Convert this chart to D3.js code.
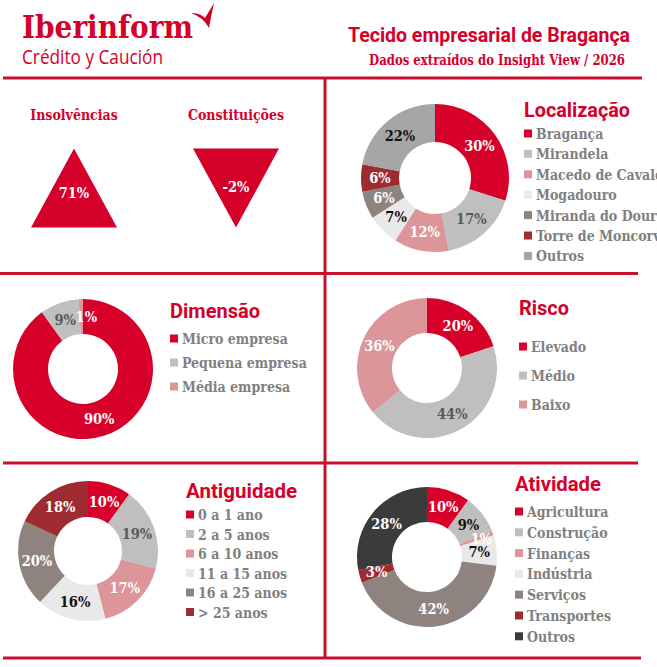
<!DOCTYPE html>
<html>
<head>
<meta charset="utf-8">
<script src="https://cdn.jsdelivr.net/npm/d3@7"></script>
<style>
  html, body { margin: 0; padding: 0; background: #fff; }
  svg { display: block; }
  .serif { font-family: "DejaVu Serif Condensed", "Liberation Serif", serif; font-weight: bold; }
  .sans { font-family: Roboto, "Noto Sans", sans-serif; font-weight: bold; }
</style>
</head>
<body>
<div id="board"></div>
<script>
// ===== データ =====
const kpiLabels = ["Insolvências", "Constituições"];
const kpiValues = [71, -2];

const locLabels = ["Bragança", "Mirandela", "Macedo de Cavaleiros", "Mogadouro", "Miranda do Douro", "Torre de Moncorvo", "Outros"];
const locValues = [30, 17, 12, 7, 6, 6, 22];

const dimLabels = ["Micro empresa", "Pequena empresa", "Média empresa"];
const dimValues = [90, 9, 1];

const riscoLabels = ["Elevado", "Médio", "Baixo"];
const riscoValues = [20, 44, 36];

const antLabels = ["0 a 1 ano", "2 a 5 anos", "6 a 10 anos", "11 a 15 anos", "16 a 25 anos", "> 25 anos"];
const antValues = [10, 19, 17, 16, 20, 18];

const atvLabels = ["Agricultura", "Construção", "Finanças", "Indústria", "Serviços", "Transportes", "Outros"];
const atvValues = [10, 9, 1, 7, 42, 3, 28];

// ===== 設定 =====
const W = 657, H = 667;
const RED = "#d4002a";
const LINE = "#c8102e";
const GREY_TXT = "#808080";
const C = {
    red: "#d7002b", grey: "#bfbfbf", pink: "#dc9598", light: "#e9e9e9",
    taupe: "#8f8380", dark: "#9e2b30", mid: "#a6a6a6", black: "#3b3b3b"
};

const svg = d3.select("#board").append("svg")
    .attr("width", W).attr("height", H);

// ---- ヘッダー ----
svg.append("text")
    .attr("x", 22).attr("y", 38)
    .style("font-family", "'DejaVu Serif Condensed', 'DejaVu Serif', serif")
    .style("font-weight", "bold")
    .attr("font-size", 31).attr("fill", RED)
    .attr("textLength", 171).attr("lengthAdjust", "spacingAndGlyphs")
    .text("Iberinform");
svg.append("path")
    .attr("d", "M191,13 Q200,13 205,18 L214,3 Q211,16 209,28 Q203,17 191,13 Z")
    .attr("fill", RED);
svg.append("text")
    .attr("x", 22).attr("y", 64)
    .style("font-family", "'Open Sans', sans-serif")
    .attr("font-size", 20).attr("fill", RED)
    .attr("textLength", 141).attr("lengthAdjust", "spacingAndGlyphs")
    .text("Crédito y Caución");

svg.append("text").attr("class", "sans")
    .attr("x", 630).attr("y", 42).attr("text-anchor", "end")
    .attr("font-size", 21).attr("fill", RED)
    .attr("textLength", 282).attr("lengthAdjust", "spacingAndGlyphs")
    .text("Tecido empresarial de Bragança");
svg.append("text").attr("class", "serif")
    .attr("x", 625).attr("y", 65).attr("text-anchor", "end")
    .attr("font-size", 15).attr("fill", RED)
    .attr("textLength", 256).attr("lengthAdjust", "spacingAndGlyphs")
    .text("Dados extraídos do Insight View / 2026");

// ---- 罫線 ----
const rules = svg.append("g").attr("stroke", LINE).attr("stroke-width", 3);
rules.append("line").attr("x1", 3).attr("x2", 642).attr("y1", 78).attr("y2", 78);
rules.append("line").attr("x1", 325).attr("x2", 325).attr("y1", 78).attr("y2", 658);
rules.append("line").attr("x1", 0).attr("x2", 638).attr("y1", 273.5).attr("y2", 273.5);
rules.append("line").attr("x1", 3).attr("x2", 638).attr("y1", 463).attr("y2", 463);
rules.append("line").attr("x1", 3).attr("x2", 641).attr("y1", 658).attr("y2", 658);

// ---- KPI 三角形 ----
const kpiX = d3.scalePoint().domain(kpiLabels).range([74, 236]);
const TRI_HALF = 43, TRI_H = 79, TRI_CY = 188;
kpiLabels.forEach((lab, i) => {
    const v = kpiValues[i];
    const cx = kpiX(lab);
    const up = v >= 0;
    const top = TRI_CY - TRI_H / 2, bot = TRI_CY + TRI_H / 2;
    const pts = up
        ? [[cx, top], [cx + TRI_HALF, bot], [cx - TRI_HALF, bot]]
        : [[cx - TRI_HALF, top], [cx + TRI_HALF, top], [cx, bot]];
    svg.append("path")
        .attr("d", d3.line()(pts) + "Z")
        .attr("fill", RED);
    svg.append("text").attr("class", "serif")
        .attr("x", cx).attr("y", 120).attr("text-anchor", "middle")
        .attr("font-size", 14).attr("fill", RED)
        .text(lab);
    svg.append("text").attr("class", "serif")
        .attr("x", cx).attr("y", up ? 198 : 192).attr("text-anchor", "middle")
        .attr("font-size", 14.5).attr("fill", "#fff")
        .text(v + "%");
});

// ---- ドーナツ ----
function donut(opt) {
    const { labels, values, colors, textColors, cx, cy, r0, r1 } = opt;
    const pie = d3.pie().sort(null).value(d => d);
    const arc = d3.arc().innerRadius(r0).outerRadius(r1);
    const arcs = pie(values);
    const g = svg.append("g").attr("transform", `translate(${cx},${cy})`);

    g.selectAll("path.slice")
        .data(arcs)
        .join("path")
        .attr("class", "slice")
        .attr("d", arc)
        .attr("fill", (d, i) => colors[i]);

    // 小さいスライスのラベルは少し右へずらす
    g.selectAll("text.pct")
        .data(arcs)
        .join("text")
        .attr("class", "pct serif")
        .attr("transform", d => `translate(${arc.centroid(d)})`)
        .attr("dx", d => d.data < 2 ? 5 : 0)
        .attr("dy", "0.36em")
        .attr("text-anchor", "middle")
        .attr("font-size", 14.5)
        .attr("fill", (d, i) => textColors[i])
        .text(d => d.data + "%");

    // 凡例
    const lg = opt.legend;
    svg.append("text").attr("class", "sans")
        .attr("x", lg.x).attr("y", lg.titleY)
        .attr("font-size", 20).attr("fill", RED)
        .attr("textLength", lg.titleW).attr("lengthAdjust", "spacingAndGlyphs")
        .text(opt.title);

    const y = d3.scalePoint().domain(labels).range([lg.y0, lg.y0 + lg.step * (labels.length - 1)]);
    const item = svg.append("g").selectAll("g")
        .data(labels)
        .join("g")
        .attr("transform", d => `translate(${lg.x},${y(d)})`);
    item.append("rect")
        .attr("x", 0).attr("y", -4.5).attr("width", 8).attr("height", 8)
        .attr("fill", (d, i) => colors[i]);
    item.append("text").attr("class", "serif")
        .attr("x", 12).attr("dy", "0.36em")
        .attr("font-size", 14).attr("fill", GREY_TXT)
        .text(d => d);
}

donut({
    title: "Localização", labels: locLabels, values: locValues,
    colors: [C.red, C.grey, C.pink, C.light, C.taupe, C.dark, C.mid],
    textColors: ["#fff", "#595959", "#fff", "#111", "#fff", "#fff", "#111"],
    cx: 435, cy: 178, r0: 36, r1: 74,
    legend: { x: 524, titleY: 117, titleW: 106, y0: 134, step: 20.4 }
});

donut({
    title: "Dimensão", labels: dimLabels, values: dimValues,
    colors: [C.red, C.grey, C.pink],
    textColors: ["#fff", "#595959", "#fff"],
    cx: 83, cy: 369, r0: 35, r1: 70,
    legend: { x: 170, titleY: 318, titleW: 90, y0: 339, step: 24 }
});

donut({
    title: "Risco", labels: riscoLabels, values: riscoValues,
    colors: [C.red, C.grey, C.pink],
    textColors: ["#fff", "#595959", "#fff"],
    cx: 427, cy: 368, r0: 35, r1: 70,
    legend: { x: 519, titleY: 315, titleW: 50, y0: 347, step: 29 }
});

donut({
    title: "Antiguidade", labels: antLabels, values: antValues,
    colors: [C.red, C.grey, C.pink, C.light, C.taupe, C.dark],
    textColors: ["#fff", "#595959", "#fff", "#111", "#fff", "#fff"],
    cx: 88, cy: 551, r0: 34, r1: 70,
    legend: { x: 186, titleY: 498, titleW: 111, y0: 515, step: 19.5 }
});

donut({
    title: "Atividade", labels: atvLabels, values: atvValues,
    colors: [C.red, C.grey, C.pink, C.light, C.taupe, C.dark, C.black],
    textColors: ["#fff", "#111", "#fff", "#111", "#fff", "#fff", "#fff"],
    cx: 427, cy: 557, r0: 35, r1: 70,
    legend: { x: 515, titleY: 491, titleW: 86, y0: 512, step: 20.8 }
});
</script>
</body>
</html>
